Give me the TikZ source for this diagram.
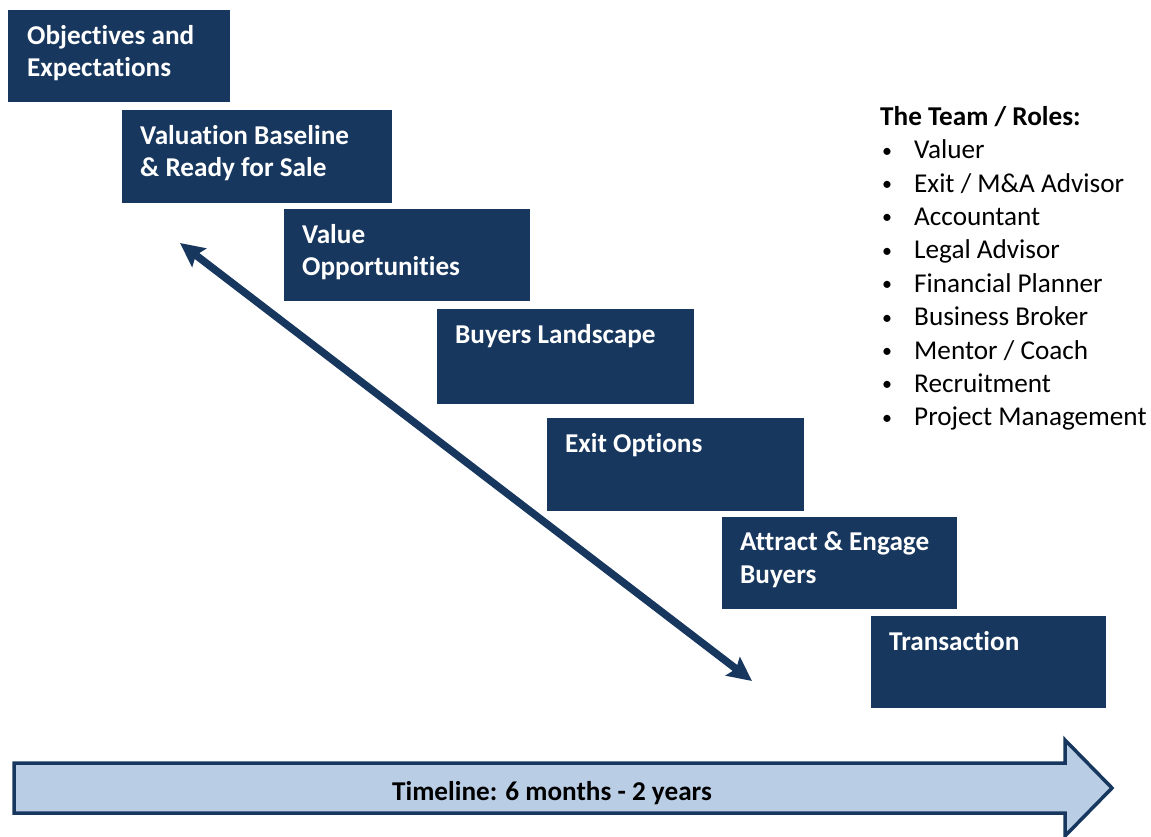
\documentclass[tikz,border=0pt]{standalone}
\usepackage{fontspec}
\setmainfont{Carlito}[Ligatures=NoCommon]
\usetikzlibrary{arrows.meta,positioning}
\definecolor{navy}{HTML}{17375E}
\definecolor{paleblue}{HTML}{B9CDE5}
\tikzstyle{stage}=[fill=navy, anchor=north west, inner sep=0pt]
\tikzstyle{stagetxt}=[anchor=north west, inner sep=0pt, align=left, text=white, font=\fontsize{27.2}{32.5}\selectfont\bfseries]
\tikzstyle{timeline}=[draw=navy, fill=paleblue, line width=3.5pt, line join=miter]
\newcommand{\role}[1]{\makebox[34pt][l]{\hspace{2pt}\raisebox{1.5pt}{\fontsize{20}{20}\selectfont\textbullet}}#1}

\begin{document}
\begin{tikzpicture}[x=1pt,y=-1pt,>={Stealth[length=24pt,width=23pt,inset=4pt]}]
\useasboundingbox (0,0) rectangle (1151,837);

% the stages, stepping down to the right
\node[stage, minimum width=222pt, minimum height=92pt] (obj) at (8,10) {};
\node[stagetxt, below right=15pt and 19pt of obj.north west] (objtxt) {Objectives and\\Expectations};

\node[stage, minimum width=270pt, minimum height=93pt] (val) at (122,110) {};
\node[stagetxt, below right=15pt and 18pt of val.north west] (valtxt) {Valuation Baseline\\\& Ready for Sale};

\node[stage, minimum width=246pt, minimum height=92pt] (opp) at (284,209) {};
\node[stagetxt, below right=15pt and 18pt of opp.north west] (opptxt) {Value\\Opportunities};

\node[stage, minimum width=257pt, minimum height=95pt] (buy) at (437,309) {};
\node[stagetxt, below right=15pt and 18pt of buy.north west] (buytxt) {Buyers Landscape};

\node[stage, minimum width=257pt, minimum height=93pt] (exit) at (547,418) {};
\node[stagetxt, below right=15pt and 18pt of exit.north west] (exittxt) {Exit Options};

\node[stage, minimum width=235pt, minimum height=92pt] (att) at (722,517) {};
\node[stagetxt, below right=15pt and 18pt of att.north west] (atttxt) {Attract \& Engage\\Buyers};

\node[stage, minimum width=235pt, minimum height=92pt] (trans) at (871,616) {};
\node[stagetxt, below right=15pt and 18pt of trans.north west] (transtxt) {Transaction};

% iteration between the stages
\coordinate (itertop) at (180,243);
\coordinate (iterbot) at (752,681);
\draw[<->, navy, line width=7.5pt] (itertop) -- (iterbot);

% who is involved
\node[anchor=north west, inner sep=0pt, align=left, font=\fontsize{27.2}{33.4}\selectfont] (team) at (880,106)
  {\textbf{The Team / Roles:}\\
   \role{Valuer}\\
   \role{Exit / M\&A Advisor}\\
   \role{Accountant}\\
   \role{Legal Advisor}\\
   \role{Financial Planner}\\
   \role{Business Broker}\\
   \role{Mentor / Coach}\\
   \role{Recruitment}\\
   \role{Project Management}};

% timeline arrow
\draw[timeline] (14,763) -- (1065,763) -- (1065,740) -- (1112,788) -- (1065,836) -- (1065,813) -- (14,813) -- cycle;
\node[anchor=base, inner sep=0pt, font=\fontsize{27.2}{32}\selectfont\bfseries] (span) at (552,800) {Timeline: 6 months - 2 years};
\end{tikzpicture}
\end{document}
